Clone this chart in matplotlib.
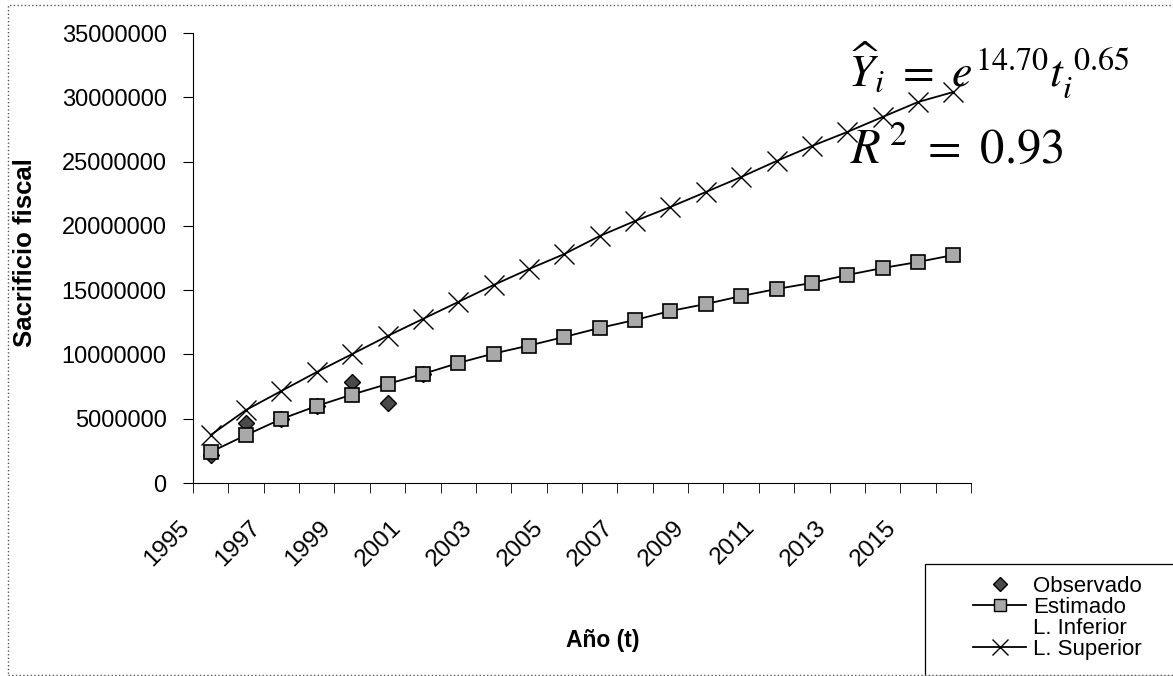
import matplotlib.pyplot as plt
import matplotlib.transforms as mtransforms
from matplotlib.lines import Line2D
from matplotlib.patches import Rectangle
import numpy as np

plt.rcParams["font.family"] = ["Liberation Sans", "DejaVu Sans"]
plt.rcParams["mathtext.fontset"] = "stix"

years = list(range(1995, 2017))
observado = [2200000, 4670000, 5000000, 6000000, 7860000, 6220000, 8450000]
estimado = [2410000, 3730000, 4980000, 5990000, 6880000, 7700000, 8480000,
            9330000, 10070000, 10690000, 11360000, 12060000, 12680000, 13380000,
            13920000, 14540000, 15090000, 15560000, 16180000, 16720000, 17190000,
            17730000]
superior = [3730000, 5680000, 7160000, 8630000, 10030000, 11430000, 12760000,
            14080000, 15400000, 16640000, 17810000, 19210000, 20380000, 21470000,
            22630000, 23800000, 25040000, 26210000, 27300000, 28470000, 29630000,
            30410000]

x = np.arange(len(years))
x_obs = np.arange(len(observado))

fig = plt.figure(figsize=(11.73, 6.76), dpi=100)
ax = fig.add_axes([193 / 1173, 1 - 483 / 676, 778 / 1173, 450 / 676])

ax.plot(x_obs, observado, linestyle="none", marker="D", markersize=8,
        markerfacecolor="#4a4a4a", markeredgecolor="black", zorder=2)
ax.plot(x, estimado, color="black", linewidth=1.3, marker="s", markersize=10,
        markerfacecolor="#a9a9a9", markeredgecolor="black", markeredgewidth=1.2,
        zorder=3)
ax.plot(x, superior, color="black", linewidth=1.3, marker="x", markersize=14,
        markeredgewidth=1.0, zorder=3)

ax.set_xlim(-0.5, len(years) - 0.5)
ax.set_ylim(0, 35000000)
ax.set_yticks(np.arange(0, 35000001, 5000000))
ax.yaxis.set_major_formatter(plt.FuncFormatter(lambda v, p: "%d" % v))

ax.set_xticks(x[::2])
ax.set_xticklabels([str(y) for y in years[::2]], rotation=45, ha="right", va="top")
ax.set_xticks(np.arange(-0.5, len(years)), minor=True)
ax.tick_params(axis="x", which="major", length=0, pad=24, labelsize=17.5)
ax.tick_params(axis="x", which="minor", length=7, direction="out")
ax.tick_params(axis="y", length=7, pad=12, labelsize=17)
offset = mtransforms.ScaledTranslation(-0.17, 0, fig.dpi_scale_trans)
for lab in ax.get_xticklabels():
    lab.set_transform(lab.get_transform() + offset)

for s in ["top", "right"]:
    ax.spines[s].set_visible(False)

ax.set_ylabel("Sacrificio fiscal", fontsize=18.5, fontweight="bold")
ax.yaxis.set_label_coords(-0.2, 0.513)
ax.set_xlabel("Año (t)", fontsize=16.5, fontweight="bold")
ax.xaxis.set_label_coords(0.527, -0.325)

fig.text(848 / 1173, 1 - 87 / 676,
         r"$\widehat{Y}_i\ =\ e^{14.70}t_i^{\ 0.65}$", fontsize=33,
         va="baseline", ha="left")
fig.text(850 / 1173, 1 - 163 / 676, r"$R^{\,2}\ =\ 0.93$", fontsize=35,
         va="baseline", ha="left")

# legend
fig.patches.append(Rectangle((925 / 1173, 0), 0.3, (676 - 564) / 676,
                             transform=fig.transFigure, fill=False,
                             edgecolor="black", linewidth=0.9))
handles = [
    Line2D([], [], linestyle="none", marker="D", markersize=7,
           markerfacecolor="#4a4a4a", markeredgecolor="black"),
    Line2D([], [], color="black", linewidth=1.3, marker="s", markersize=9,
           markerfacecolor="#a9a9a9", markeredgecolor="black"),
    Line2D([], [], linestyle="none"),
    Line2D([], [], color="black", linewidth=1.3, marker="x", markersize=12),
]
fig.legend(handles, ["Observado", "Estimado", "L. Inferior", "L. Superior"],
           loc="upper left", bbox_to_anchor=(962 / 1173, 1 - 565 / 676),
           frameon=False, fontsize=16, labelspacing=0.0, handlelength=2.4,
           handletextpad=0.3, borderpad=0.0)

# outer frame
fig.patches.append(Rectangle((8 / 1173, 1 / 676), 1.2, 670 / 676,
                             transform=fig.transFigure, fill=False,
                             edgecolor="#555555", linewidth=1.0, linestyle=":"))

fig.savefig("out.png", dpi=100)
